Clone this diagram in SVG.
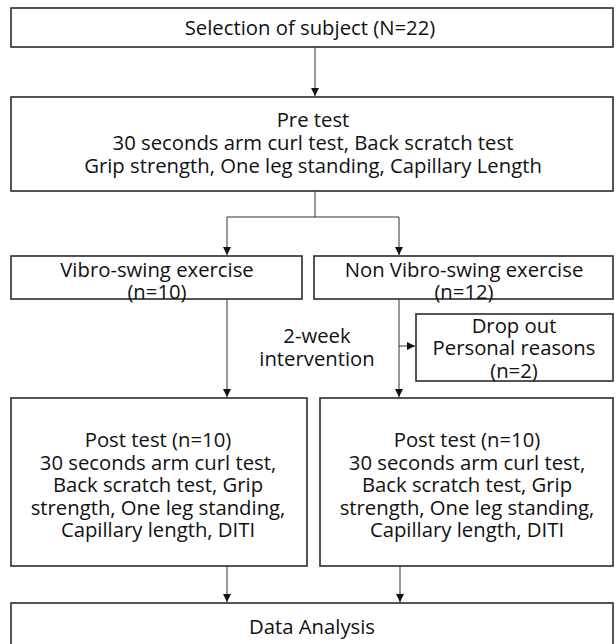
<svg xmlns="http://www.w3.org/2000/svg" width="616" height="644" viewBox="0 0 616 644">
<style>
.box{fill:#fff;stroke:#2b2b2b;stroke-width:1.6}
.t{font-family:"Open Sans","Noto Sans","Liberation Sans",sans-serif;font-size:20.3px;fill:#111;text-anchor:middle}
.c{fill:none;stroke:#333;stroke-width:1}
</style>
<defs>
<marker id="ah" viewBox="0 0 8 10" refX="8" refY="5" markerWidth="8" markerHeight="10" markerUnits="userSpaceOnUse" orient="auto">
<path d="M0,1 L8,5 L0,9 Z" fill="#111"/>
</marker>
</defs>
<rect width="616" height="644" fill="#fff"/>
<g id="connectors">
<line class="c" x1="315" y1="47" x2="315" y2="96" marker-end="url(#ah)"/>
<polyline class="c" points="315,191 315,217 227,217 227,255" marker-end="url(#ah)"/>
<polyline class="c" points="315,217 399,217 399,255" marker-end="url(#ah)"/>
<line class="c" x1="227" y1="299" x2="227" y2="397" marker-end="url(#ah)"/>
<line class="c" x1="399" y1="299" x2="399" y2="397" marker-end="url(#ah)"/>
<line class="c" x1="399" y1="346" x2="415" y2="346" marker-end="url(#ah)"/>
<line class="c" x1="227" y1="566" x2="227" y2="602" marker-end="url(#ah)"/>
<line class="c" x1="400" y1="566" x2="400" y2="602" marker-end="url(#ah)"/>
</g>
<g id="selection">
<rect class="box" x="11" y="8" width="602" height="39"/>
<text class="t" x="310" y="35">Selection of subject (N=22)</text>
</g>
<g id="pretest">
<rect class="box" x="11" y="97" width="602" height="94"/>
<text class="t" x="313" y="127">Pre test</text>
<text class="t" x="313" y="150">30 seconds arm curl test, Back scratch test</text>
<text class="t" x="313" y="173">Grip strength, One leg standing, Capillary Length</text>
</g>
<g id="vibro">
<rect class="box" x="11" y="256" width="291" height="43"/>
<text class="t" x="157" y="277">Vibro-swing exercise</text>
<text class="t" x="157" y="299">(n=10)</text>
</g>
<g id="nonvibro">
<rect class="box" x="314" y="256" width="299" height="43"/>
<text class="t" x="464" y="277">Non Vibro-swing exercise</text>
<text class="t" x="464" y="299">(n=12)</text>
</g>
<g id="intervention">
<text class="t" x="317" y="343">2-week</text>
<text class="t" x="317" y="366">intervention</text>
</g>
<g id="dropout">
<rect class="box" x="416" y="314" width="197" height="67"/>
<text class="t" x="514" y="333">Drop out</text>
<text class="t" x="514" y="355">Personal reasons</text>
<text class="t" x="514" y="378">(n=2)</text>
</g>
<g id="post1">
<rect class="box" x="11" y="398" width="296" height="168"/>
<text class="t" x="158" y="447">Post test (n=10)</text>
<text class="t" x="158" y="470">30 seconds arm curl test,</text>
<text class="t" x="158" y="492">Back scratch test, Grip</text>
<text class="t" x="158" y="515">strength, One leg standing,</text>
<text class="t" x="158" y="537">Capillary length, DITI</text>
</g>
<g id="post2">
<rect class="box" x="320" y="398" width="293" height="168"/>
<text class="t" x="467" y="447">Post test (n=10)</text>
<text class="t" x="467" y="470">30 seconds arm curl test,</text>
<text class="t" x="467" y="492">Back scratch test, Grip</text>
<text class="t" x="467" y="515">strength, One leg standing,</text>
<text class="t" x="467" y="537">Capillary length, DITI</text>
</g>
<g id="analysis">
<rect class="box" x="11" y="603" width="602" height="50"/>
<text class="t" x="312" y="634">Data Analysis</text>
</g>
</svg>
